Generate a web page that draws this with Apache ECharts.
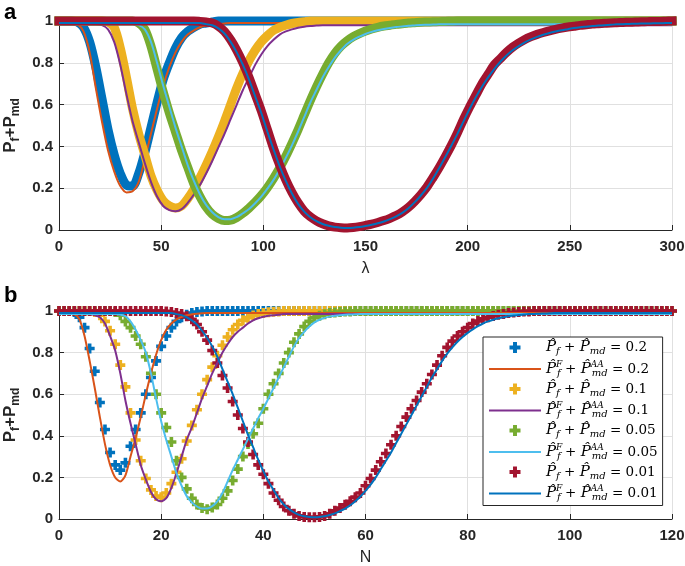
<!DOCTYPE html>
<html><head><meta charset="utf-8">
<script src="https://cdn.jsdelivr.net/npm/echarts@6/dist/echarts.min.js"></script>
<style>html,body{margin:0;padding:0;background:#fff}#c{width:685px;height:566px}</style>
</head><body><div id="c"></div>
<script>
// ---------- sample positions ----------
const lamX = [0,3,6,9,12,15,18,21,24,27,
30,33,36,39,42,45,48,51,54,57,
60,63,66,69,72,75,78,81,84,87,
90,93,96,99,102,105,108,111,114,117,
120,123,126,129,132,135,138,141,144,147,
150,153,156,159,162,165,168,171,174,177,
180,183,186,189,192,195,198,201,204,207,
210,213,216,219,222,225,228,231,234,237,
240,243,246,249,252,255,258,261,264,267,
270,273,276,279,282,285,288,291,294,297,
300];
const nX = [0,1,2,3,4,5,6,7,8,9,
10,11,12,13,14,15,16,17,18,19,
20,21,22,23,24,25,26,27,28,29,
30,31,32,33,34,35,36,37,38,39,
40,41,42,43,44,45,46,47,48,49,
50,51,52,53,54,55,56,57,58,59,
60,61,62,63,64,65,66,67,68,69,
70,71,72,73,74,75,76,77,78,79,
80,81,82,83,84,85,86,87,88,89,
90,91,92,93,94,95,96,97,98,99,
100,101,102,103,104,105,106,107,108,109,
110,111,112,113,114,115,116,117,118,119,
120];
const legendVals = ['0.2','0.1','0.05','0.01'];

// ---------- panel a (lambda) ----------
const topM1 = [1,1,1,0.995,0.97,0.9,0.78,0.63,0.48,0.36,
0.27,0.215,0.21,0.27,0.37,0.49,0.61,0.72,0.8,0.87,
0.92,0.95,0.97,0.985,0.99,0.995,1,1,1,1,
1,1,1,1,1,1,1,1,1,1,
1,1,1,1,1,1,1,1,1,1,
1,1,1,1,1,1,1,1,1,1,
1,1,1,1,1,1,1,1,1,1,
1,1,1,1,1,1,1,1,1,1,
1,1,1,1,1,1,1,1,1,1,
1,1,1,1,1,1,1,1,1,1,
1];
const topL1 = [0.99,0.99,0.99,0.985,0.95,0.85,0.68,0.52,0.38,0.28,
0.21,0.18,0.185,0.23,0.34,0.46,0.58,0.69,0.78,0.85,
0.9,0.935,0.955,0.97,0.978,0.983,0.986,0.988,0.99,0.99,
0.99,0.99,0.99,0.99,0.99,0.99,0.99,0.99,0.99,0.99,
0.99,0.99,0.99,0.99,0.99,0.99,0.99,0.99,0.99,0.99,
0.99,0.99,0.99,0.99,0.99,0.99,0.99,0.99,0.99,0.99,
0.99,0.99,0.99,0.99,0.99,0.99,0.99,0.99,0.99,0.99,
0.99,0.99,0.99,0.99,0.99,0.99,0.99,0.99,0.99,0.99,
0.99,0.99,0.99,0.99,0.99,0.99,0.99,0.99,0.99,0.99,
0.99,0.99,0.99,0.99,0.99,0.99,0.99,0.99,0.99,0.99,
0.99];
const topM2 = [1,1,1,1,1,1,1,1,0.995,0.97,
0.87,0.73,0.58,0.46,0.36,0.26,0.19,0.14,0.115,0.105,
0.115,0.15,0.195,0.25,0.31,0.375,0.445,0.52,0.6,0.68,
0.75,0.81,0.86,0.9,0.93,0.955,0.97,0.98,0.988,0.993,
0.996,1,1,1,1,1,1,1,1,1,
1,1,1,1,1,1,1,1,1,1,
1,1,1,1,1,1,1,1,1,1,
1,1,1,1,1,1,1,1,1,1,
1,1,1,1,1,1,1,1,1,1,
1,1,1,1,1,1,1,1,1,1,
1];
const topL2 = [0.985,0.985,0.985,0.985,0.985,0.985,0.985,0.98,0.96,0.9,
0.79,0.65,0.52,0.42,0.32,0.23,0.16,0.115,0.095,0.09,
0.1,0.13,0.17,0.215,0.27,0.33,0.395,0.46,0.53,0.6,
0.67,0.73,0.79,0.84,0.88,0.91,0.935,0.95,0.96,0.968,
0.973,0.976,0.978,0.98,0.98,0.98,0.98,0.98,0.98,0.98,
0.98,0.98,0.98,0.98,0.98,0.98,0.98,0.98,0.98,0.98,
0.98,0.98,0.98,0.98,0.98,0.98,0.98,0.98,0.98,0.98,
0.98,0.98,0.98,0.98,0.98,0.98,0.98,0.98,0.98,0.98,
0.98,0.98,0.98,0.98,0.98,0.98,0.98,0.98,0.98,0.98,
0.98,0.98,0.98,0.98,0.98,0.98,0.98,0.98,0.98,0.98,
0.98];
const topM3 = [1,1,1,1,1,1,1,1,1,1,
1,1,1,0.99,0.96,0.88,0.77,0.66,0.56,0.47,
0.38,0.3,0.22,0.16,0.11,0.075,0.055,0.045,0.047,0.06,
0.08,0.105,0.133,0.165,0.203,0.247,0.297,0.353,0.415,0.48,
0.55,0.62,0.685,0.745,0.8,0.845,0.88,0.905,0.925,0.94,
0.952,0.962,0.97,0.976,0.98,0.984,0.987,0.99,0.992,0.994,
0.995,0.996,0.997,0.998,0.999,1,1,1,1,1,
1,1,1,1,1,1,1,1,1,1,
1,1,1,1,1,1,1,1,1,1,
1,1,1,1,1,1,1,1,1,1,
1];
const topL3 = [0.985,0.985,0.985,0.985,0.985,0.985,0.985,0.985,0.985,0.985,
0.985,0.985,0.985,0.98,0.96,0.9,0.8,0.69,0.59,0.49,
0.4,0.31,0.235,0.17,0.12,0.085,0.062,0.052,0.052,0.062,
0.08,0.1,0.128,0.16,0.198,0.24,0.29,0.345,0.405,0.47,
0.54,0.61,0.67,0.73,0.78,0.825,0.86,0.89,0.91,0.925,
0.938,0.948,0.956,0.962,0.967,0.971,0.974,0.977,0.979,0.981,
0.982,0.983,0.984,0.985,0.985,0.985,0.985,0.985,0.985,0.985,
0.985,0.985,0.985,0.985,0.985,0.985,0.985,0.985,0.985,0.985,
0.985,0.985,0.985,0.985,0.985,0.985,0.985,0.985,0.985,0.985,
0.985,0.985,0.985,0.985,0.985,0.985,0.985,0.985,0.985,0.985,
0.985];
const topM4 = [1,1,1,1,1,1,1,1,1,1,
1,1,1,1,1,1,1,1,1,1,
1,1,1,0.998,0.995,0.99,0.975,0.95,0.91,0.86,
0.8,0.73,0.65,0.57,0.48,0.39,0.31,0.24,0.18,0.13,
0.09,0.063,0.044,0.03,0.02,0.014,0.011,0.01,0.012,0.016,
0.022,0.028,0.036,0.045,0.056,0.069,0.086,0.108,0.136,0.168,
0.205,0.25,0.298,0.35,0.405,0.465,0.53,0.59,0.645,0.7,
0.745,0.79,0.82,0.85,0.875,0.895,0.912,0.925,0.936,0.945,
0.953,0.96,0.966,0.971,0.975,0.979,0.982,0.985,0.987,0.989,
0.991,0.992,0.993,0.994,0.995,0.996,0.997,0.998,0.998,0.999,
1];
const topL4 = [0.99,0.99,0.99,0.99,0.99,0.99,0.99,0.99,0.99,0.99,
0.99,0.99,0.99,0.99,0.99,0.99,0.99,0.99,0.99,0.99,
0.99,0.99,0.99,0.99,0.985,0.98,0.965,0.94,0.9,0.85,
0.79,0.72,0.64,0.56,0.47,0.385,0.305,0.235,0.175,0.125,
0.088,0.061,0.042,0.029,0.02,0.014,0.011,0.01,0.011,0.014,
0.019,0.025,0.032,0.041,0.052,0.065,0.082,0.104,0.132,0.164,
0.2,0.245,0.295,0.348,0.403,0.46,0.52,0.58,0.635,0.685,
0.73,0.77,0.805,0.835,0.86,0.88,0.898,0.912,0.924,0.934,
0.943,0.95,0.956,0.961,0.966,0.97,0.973,0.976,0.978,0.98,
0.982,0.984,0.985,0.986,0.987,0.988,0.988,0.989,0.989,0.99,
0.99];

// ---------- panel b (N) ----------
const botM1 = [1,1,1,0.995,0.97,0.92,0.82,0.71,0.56,0.43,
0.32,0.26,0.235,0.27,0.35,0.43,0.51,0.6,0.68,0.76,
0.83,0.88,0.92,0.95,0.97,0.982,0.99,0.995,0.998,1,
1,1,1,1,1,1,1,1,1,1,
1,1,1,1,1,1,1,1,1,1,
1,1,1,1,1,1,1,1,1,1,
1,1,1,1,1,1,1,1,1,1,
1,1,1,1,1,1,1,1,1,1,
1,1,1,1,1,1,1,1,1,1,
1,1,1,1,1,1,1,1,1,1,
1,1,1,1,1,1,1,1,1,1,
1,1,1,1,1,1,1,1,1,1,
1];
const botL1 = [0.99,0.99,0.99,0.985,0.96,0.88,0.76,0.63,0.49,0.36,
0.26,0.2,0.18,0.21,0.3,0.39,0.49,0.6,0.7,0.79,
0.86,0.91,0.94,0.96,0.972,0.98,0.984,0.987,0.989,0.99,
0.99,0.99,0.99,0.99,0.99,0.99,0.99,0.99,0.99,0.99,
0.99,0.99,0.99,0.99,0.99,0.99,0.99,0.99,0.99,0.99,
0.99,0.99,0.99,0.99,0.99,0.99,0.99,0.99,0.99,0.99,
0.99,0.99,0.99,0.99,0.99,0.99,0.99,0.99,0.99,0.99,
0.99,0.99,0.99,0.99,0.99,0.99,0.99,0.99,0.99,0.99,
0.99,0.99,0.99,0.99,0.99,0.99,0.99,0.99,0.99,0.99,
0.99,0.99,0.99,0.99,0.99,0.99,0.99,0.99,0.99,0.99,
0.99,0.99,0.99,0.99,0.99,0.99,0.99,0.99,0.99,0.99,
0.99,0.99,0.99,0.99,0.99,0.99,0.99,0.99,0.99,0.99,
0.99];
const botM2 = [1,1,1,1,1,1,1,0.995,0.98,0.95,
0.905,0.84,0.74,0.635,0.51,0.38,0.28,0.195,0.14,0.11,
0.105,0.125,0.17,0.225,0.29,0.375,0.45,0.525,0.6,0.67,
0.73,0.785,0.835,0.875,0.91,0.935,0.955,0.968,0.978,0.985,
0.99,0.994,0.996,0.998,1,1,1,1,1,1,
1,1,1,1,1,1,1,1,1,1,
1,1,1,1,1,1,1,1,1,1,
1,1,1,1,1,1,1,1,1,1,
1,1,1,1,1,1,1,1,1,1,
1,1,1,1,1,1,1,1,1,1,
1,1,1,1,1,1,1,1,1,1,
1,1,1,1,1,1,1,1,1,1,
1];
const botL2 = [0.985,0.985,0.985,0.985,0.985,0.985,0.985,0.98,0.97,0.94,
0.88,0.81,0.7,0.57,0.46,0.36,0.26,0.19,0.13,0.095,
0.085,0.1,0.15,0.22,0.3,0.38,0.44,0.51,0.58,0.64,
0.7,0.75,0.8,0.84,0.875,0.9,0.92,0.94,0.955,0.965,
0.972,0.977,0.98,0.982,0.985,0.985,0.985,0.985,0.985,0.985,
0.985,0.985,0.985,0.985,0.985,0.985,0.985,0.985,0.985,0.985,
0.985,0.985,0.985,0.985,0.985,0.985,0.985,0.985,0.985,0.985,
0.985,0.985,0.985,0.985,0.985,0.985,0.985,0.985,0.985,0.985,
0.985,0.985,0.985,0.985,0.985,0.985,0.985,0.985,0.985,0.985,
0.985,0.985,0.985,0.985,0.985,0.985,0.985,0.985,0.985,0.985,
0.985,0.985,0.985,0.985,0.985,0.985,0.985,0.985,0.985,0.985,
0.985,0.985,0.985,0.985,0.985,0.985,0.985,0.985,0.985,0.985,
0.985];
const botM3 = [1,1,1,1,1,1,1,1,1,1,
1,0.995,0.98,0.95,0.92,0.88,0.84,0.78,0.7,0.6,
0.51,0.44,0.37,0.28,0.2,0.145,0.1,0.07,0.053,0.047,
0.055,0.07,0.1,0.135,0.185,0.24,0.3,0.36,0.41,0.46,
0.53,0.6,0.65,0.7,0.75,0.8,0.85,0.89,0.925,0.95,
0.968,0.977,0.984,0.99,0.993,0.995,0.997,0.998,1,1,
1,1,1,1,1,1,1,1,1,1,
1,1,1,1,1,1,1,1,1,1,
1,1,1,1,1,1,1,1,1,1,
1,1,1,1,1,1,1,1,1,1,
1,1,1,1,1,1,1,1,1,1,
1,1,1,1,1,1,1,1,1,1,
1];
const botL3 = [0.985,0.985,0.985,0.985,0.985,0.985,0.985,0.985,0.985,0.985,
0.985,0.985,0.982,0.975,0.95,0.91,0.86,0.8,0.7,0.58,
0.47,0.38,0.3,0.22,0.16,0.11,0.08,0.06,0.05,0.05,
0.062,0.085,0.125,0.18,0.235,0.285,0.335,0.385,0.435,0.485,
0.53,0.58,0.63,0.68,0.73,0.78,0.83,0.87,0.9,0.925,
0.945,0.958,0.967,0.973,0.977,0.98,0.982,0.983,0.984,0.985,
0.985,0.985,0.985,0.985,0.985,0.985,0.985,0.985,0.985,0.985,
0.985,0.985,0.985,0.985,0.985,0.985,0.985,0.985,0.985,0.985,
0.985,0.985,0.985,0.985,0.985,0.985,0.985,0.985,0.985,0.985,
0.985,0.985,0.985,0.985,0.985,0.985,0.985,0.985,0.985,0.985,
0.985,0.985,0.985,0.985,0.985,0.985,0.985,0.985,0.985,0.985,
0.985,0.985,0.985,0.985,0.985,0.985,0.985,0.985,0.985,0.985,
0.985];
const botM4 = [1,1,1,1,1,1,1,1,1,1,
1,1,1,1,1,1,1,1,1,1,
1,0.998,0.995,0.99,0.985,0.975,0.96,0.935,0.9,0.86,
0.81,0.75,0.69,0.63,0.565,0.5,0.435,0.37,0.31,0.26,
0.215,0.17,0.125,0.09,0.06,0.04,0.025,0.015,0.01,0.008,
0.008,0.01,0.015,0.025,0.04,0.053,0.068,0.085,0.105,0.125,
0.16,0.195,0.235,0.275,0.315,0.357,0.4,0.445,0.49,0.53,
0.57,0.61,0.65,0.695,0.74,0.785,0.825,0.855,0.88,0.9,
0.92,0.94,0.952,0.962,0.97,0.976,0.982,0.986,0.99,0.993,
0.995,0.997,0.998,1,1,1,1,1,1,1,
1,1,1,1,1,1,1,1,1,1,
1,1,1,1,1,1,1,1,1,1,
1];
const botL4 = [0.99,0.99,0.99,0.99,0.99,0.99,0.99,0.99,0.99,0.99,
0.99,0.99,0.99,0.99,0.99,0.99,0.99,0.99,0.99,0.99,
0.99,0.99,0.99,0.985,0.98,0.97,0.955,0.935,0.905,0.87,
0.83,0.78,0.72,0.66,0.6,0.535,0.47,0.405,0.345,0.285,
0.23,0.18,0.14,0.1,0.07,0.048,0.032,0.02,0.013,0.01,
0.009,0.01,0.013,0.019,0.027,0.038,0.05,0.066,0.085,0.108,
0.135,0.165,0.2,0.24,0.28,0.32,0.365,0.41,0.455,0.5,
0.545,0.59,0.635,0.68,0.72,0.76,0.795,0.825,0.852,0.875,
0.895,0.912,0.927,0.94,0.95,0.958,0.965,0.97,0.975,0.978,
0.981,0.983,0.985,0.986,0.987,0.988,0.989,0.99,0.99,0.99,
0.99,0.99,0.99,0.99,0.99,0.99,0.99,0.99,0.99,0.99,
0.99,0.99,0.99,0.99,0.99,0.99,0.99,0.99,0.99,0.99,
0.99];

// ---------- styling ----------
const markerColors = ['#0072BD','#EDB120','#77AC30','#A2142F'];
const lineColors = ['#D95319','#7E2F8E','#4DBEEE','#0072BD'];
const PLUS = 'path://M3.2,0H6.8V3.2H10V6.8H6.8V10H3.2V6.8H0V3.2H3.2Z';
const LINEICON = 'path://M0,0H100V4H0Z';
const AX = '#262626';
const FONT = 'Liberation Sans, Arial, Helvetica, sans-serif';
const SERIF = 'DejaVu Serif, Liberation Serif, serif';

function pairs(xs, ys){ return xs.map((x,i)=>[x, ys[i]]); }

const topM = [topM1, topM2, topM3, topM4];
const topL = [topL1, topL2, topL3, topL4];
const botM = [botM1, botM2, botM3, botM4];
const botL = [botL1, botL2, botL3, botL4];

const series = [];
// panel b: separate plus markers at every integer N
for (let k=0;k<4;k++){
  series.push({
    name:'M'+legendVals[k], type:'scatter', xAxisIndex:1, yAxisIndex:1,
    symbol:PLUS, symbolSize:10, clip:false,
    itemStyle:{color:markerColors[k], opacity:1},
    data:pairs(nX, botM[k]), silent:true
  });
  series.push({
    name:'L'+legendVals[k], type:'line', xAxisIndex:1, yAxisIndex:1,
    symbol:'none', smooth:0.25, clip:false,
    lineStyle:{color:lineColors[k], width:2}, itemStyle:{color:lineColors[k]},
    data:pairs(nX, botL[k]), silent:true
  });
}
// panel a: markers are so dense that they merge into a thick band
for (let k=0;k<4;k++){
  series.push({
    name:'M'+legendVals[k], type:'line', xAxisIndex:0, yAxisIndex:0,
    symbol:'none', smooth:0.3, clip:false,
    lineStyle:{color:markerColors[k], width:9, cap:'square', join:'round'},
    itemStyle:{color:markerColors[k]},
    data:pairs(lamX, topM[k]), silent:true
  });
  series.push({
    name:'L'+legendVals[k], type:'line', xAxisIndex:0, yAxisIndex:0,
    symbol:'none', smooth:0.3, clip:false,
    lineStyle:{color:lineColors[k], width:2}, itemStyle:{color:lineColors[k]},
    data:pairs(lamX, topL[k]), silent:true
  });
}

function xAxisCfg(gi, max, interval, name, gap){
  return {
    type:'value', gridIndex:gi, min:0, max:max, interval:interval,
    name:name, nameLocation:'middle', nameGap:gap,
    nameTextStyle:{color:AX, fontSize:16, fontFamily:FONT},
    axisLine:{show:true, lineStyle:{color:AX, width:1}},
    axisTick:{show:true, inside:true, length:5, lineStyle:{color:AX}},
    axisLabel:{color:AX, fontSize:15, fontWeight:'bold', fontFamily:FONT, margin:9},
    splitLine:{show:true, lineStyle:{color:'#e0e0e0', width:1}}
  };
}
function yAxisCfg(gi){
  return {
    type:'value', gridIndex:gi, min:0, max:1, interval:0.2,
    name:'{b|P}{s|f}{b|+P}{s|md}', nameLocation:'middle', nameGap:35,
    nameTextStyle:{color:AX, fontFamily:FONT, rich:{
      b:{fontSize:17, fontWeight:'bold', fontFamily:FONT, color:AX, lineHeight:21},
      s:{fontSize:12, fontWeight:'bold', fontFamily:FONT, color:AX, lineHeight:10, verticalAlign:'bottom'}
    }},
    axisLine:{show:true, lineStyle:{color:AX, width:1}},
    axisTick:{show:true, inside:true, length:5, lineStyle:{color:AX}},
    axisLabel:{color:AX, fontSize:15, fontWeight:'bold', fontFamily:FONT, margin:6,
      formatter: v => String(Math.round(v*10)/10)},
    splitLine:{show:true, lineStyle:{color:'#e0e0e0', width:1}}
  };
}

const legendData = [];
for (let k=0;k<4;k++){
  legendData.push({name:'M'+legendVals[k], icon:PLUS});
  legendData.push({name:'L'+legendVals[k], icon:LINEICON});
}
const H = 'P\u0302';

const option = {
  animation:false,
  backgroundColor:'#fff',
  grid:[
    {left:59, top:21, width:613, height:209, containLabel:false, outerBoundsMode:'none'},
    {left:59, top:311, width:613, height:208, containLabel:false, outerBoundsMode:'none'}
  ],
  xAxis:[ xAxisCfg(0,300,50,'λ',31), xAxisCfg(1,120,20,'N',31) ],
  yAxis:[ yAxisCfg(0), yAxisCfg(1) ],
  legend:{
    data: legendData, orient:'vertical', left:483, top:337,
    backgroundColor:'#fff', borderColor:AX, borderWidth:1,
    padding:[3,5,3,6], itemGap:3.5, itemWidth:52, itemHeight:11,
    selectedMode:false,
    formatter: function(name){
      const v = name.slice(1);
      if (name[0]==='M') return '{P|'+H+'}{sub|f}{t| + }{P|'+H+'}{sub|md}{t| = '+v+'}';
      return '{P|'+H+'}{sup|F}{sub|f}{t| + }{P|'+H+'}{sup|AA}{sub|md}{t| = '+v+'}';
    },
    textStyle:{ color:'#000', rich:{
      P:{fontFamily:SERIF, fontStyle:'italic', fontSize:15, lineHeight:18, color:'#000'},
      t:{fontFamily:SERIF, fontSize:13.5, lineHeight:18, color:'#000'},
      sub:{fontFamily:SERIF, fontStyle:'italic', fontSize:10, lineHeight:9, verticalAlign:'bottom', color:'#000'},
      sup:{fontFamily:SERIF, fontStyle:'italic', fontSize:9, lineHeight:9, verticalAlign:'top', width:1, color:'#000'}
    }}
  },
  graphic:[
    {type:'text', left:4, top:2, style:{text:'a', fontSize:22, fontWeight:'bold', fontFamily:FONT, fill:'#000'}},
    {type:'text', left:4, top:285, style:{text:'b', fontSize:22, fontWeight:'bold', fontFamily:FONT, fill:'#000'}}
  ],
  series: series
};
const chart = echarts.init(document.getElementById('c'), null, {renderer:'canvas'});
chart.setOption(option);
</script></body></html>
